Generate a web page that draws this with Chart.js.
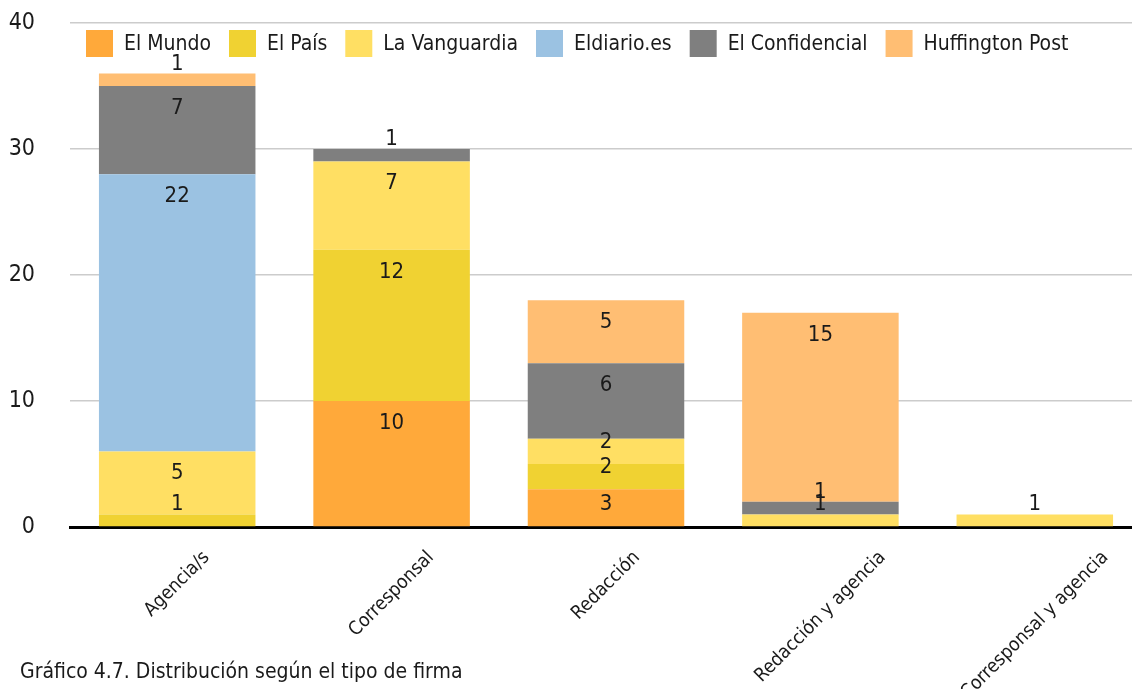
<!DOCTYPE html>
<html>
<head>
<meta charset="utf-8">
<script src="https://cdn.jsdelivr.net/npm/chart.js@4"></script>
<style>
  html, body { margin: 0; padding: 0; background: #fff; overflow: hidden; }
  #wrap { position: relative; width: 1132px; height: 689px; overflow: hidden; }
  #firma { position: absolute; left: 0; top: 0; }
  #caption {
    position: absolute; left: 20px; top: 659px;
    font: 21px "DejaVu Sans Condensed", "Liberation Sans Narrow", sans-serif;
    color: #1a1a1a; white-space: nowrap;
  }
</style>
</head>
<body>
<div id="wrap">
  <canvas id="firma" width="1142" height="689"></canvas>
  <div id="caption">Gráfico 4.7. Distribución según el tipo de firma</div>
</div>
<script>
const categories = ["Agencia/s", "Corresponsal", "Redacción", "Redacción y agencia", "Corresponsal y agencia"];
const elMundo = [0, 10, 3, 0, 0];
const elPais = [1, 12, 2, 0, 0];
const laVanguardia = [5, 7, 2, 1, 1];
const eldiario = [22, 0, 0, 0, 0];
const elConfidencial = [7, 1, 6, 1, 0];
const huffington = [1, 0, 5, 15, 0];
const yTicks = [0, 10, 20, 30, 40];

const fontFamily = '"DejaVu Sans Condensed", "Liberation Sans Narrow", sans-serif';
Chart.defaults.font.family = fontFamily;
Chart.defaults.color = "#1a1a1a";

const series = [
  { label: "El Mundo", data: elMundo, color: "#FFA93A" },
  { label: "El País", data: elPais, color: "#F0D232" },
  { label: "La Vanguardia", data: laVanguardia, color: "#FFDF63" },
  { label: "Eldiario.es", data: eldiario, color: "#9BC2E2" },
  { label: "El Confidencial", data: elConfidencial, color: "#7F7F7F" },
  { label: "Huffington Post", data: huffington, color: "#FFBE73" },
];

// numbers on the segments: near the top, pushed above when the segment is thin
const segmentLabels = {
  id: "segmentLabels",
  afterDatasetsDraw(chart) {
    const ctx = chart.ctx;
    ctx.save();
    ctx.font = "22px " + fontFamily;
    ctx.fillStyle = "#1a1a1a";
    ctx.textAlign = "center";
    ctx.textBaseline = "middle";
    chart.data.datasets.forEach((ds, i) => {
      chart.getDatasetMeta(i).data.forEach((bar, j) => {
        const v = ds.data[j];
        if (!v) return;
        const h = bar.base - bar.y;
        ctx.fillText(String(v), bar.x, bar.y + Math.min(22, h - 22));
      });
    });
    ctx.restore();
  },
};

// category names rotated 45 deg, centred under each bar
const slantedTicks = {
  id: "slantedTicks",
  afterDraw(chart) {
    const ctx = chart.ctx;
    const xs = chart.scales.x;
    const size = 19;
    const top = chart.chartArea.bottom + 21;
    ctx.save();
    ctx.font = size + "px " + fontFamily;
    ctx.fillStyle = "#1a1a1a";
    ctx.textAlign = "center";
    ctx.textBaseline = "middle";
    xs.ticks.forEach((t, i) => {
      const label = xs.getLabelForValue(t.value);
      const w = ctx.measureText(label).width;
      const half = (w + size) * Math.SQRT1_2 / 2;
      ctx.save();
      ctx.translate(xs.getPixelForTick(i), top + half);
      ctx.rotate(-Math.PI / 4);
      ctx.fillText(label, 0, 0);
      ctx.restore();
    });
    ctx.restore();
  },
};

// one-row legend laid over the top of the plot
const insideLegend = {
  id: "insideLegend",
  afterDraw(chart) {
    const ctx = chart.ctx;
    const box = 27;
    let x = chart.chartArea.left + 16;
    const y = chart.chartArea.top + 7;
    ctx.save();
    ctx.font = "21px " + fontFamily;
    ctx.textAlign = "left";
    ctx.textBaseline = "middle";
    chart.data.datasets.forEach((ds) => {
      ctx.fillStyle = ds.backgroundColor;
      ctx.fillRect(x, y, box, box);
      ctx.fillStyle = "#1a1a1a";
      ctx.fillText(ds.label, x + box + 11, y + box / 2 + 1);
      x += box + 11 + ctx.measureText(ds.label).width + 18;
    });
    ctx.restore();
  },
};

new Chart(document.getElementById("firma"), {
  type: "bar",
  data: {
    labels: categories,
    datasets: series.map((s) => ({
      label: s.label,
      data: s.data,
      backgroundColor: s.color,
      borderWidth: 0,
      barPercentage: 0.73,
      categoryPercentage: 1,
    })),
  },
  options: {
    responsive: false,
    animation: false,
    layout: { padding: { top: 23, left: 0, right: 0, bottom: 0 } },
    plugins: {
      legend: { display: false },
      tooltip: { enabled: false },
    },
    scales: {
      x: {
        stacked: true,
        z: 1,
        grid: { display: false },
        border: { display: true, color: "#000", width: 3 },
        ticks: { display: false },
        afterFit(scale) {
          scale.height = 162;
        },
      },
      y: {
        stacked: true,
        min: 0,
        max: 40,
        afterBuildTicks(scale) {
          scale.ticks = yTicks.map((v) => ({ value: v }));
        },
        grid: { color: "#cccccc", lineWidth: 1.5, drawTicks: false },
        border: { display: false },
        ticks: {
          padding: 35,
          font: { size: 23 },
          color: "#1a1a1a",
        },
        afterFit(scale) {
          scale.width = 70;
          scale.paddingTop = 0;
          scale.paddingBottom = 0;
        },
      },
    },
  },
  plugins: [segmentLabels, slantedTicks, insideLegend],
});
</script>
</body>
</html>
